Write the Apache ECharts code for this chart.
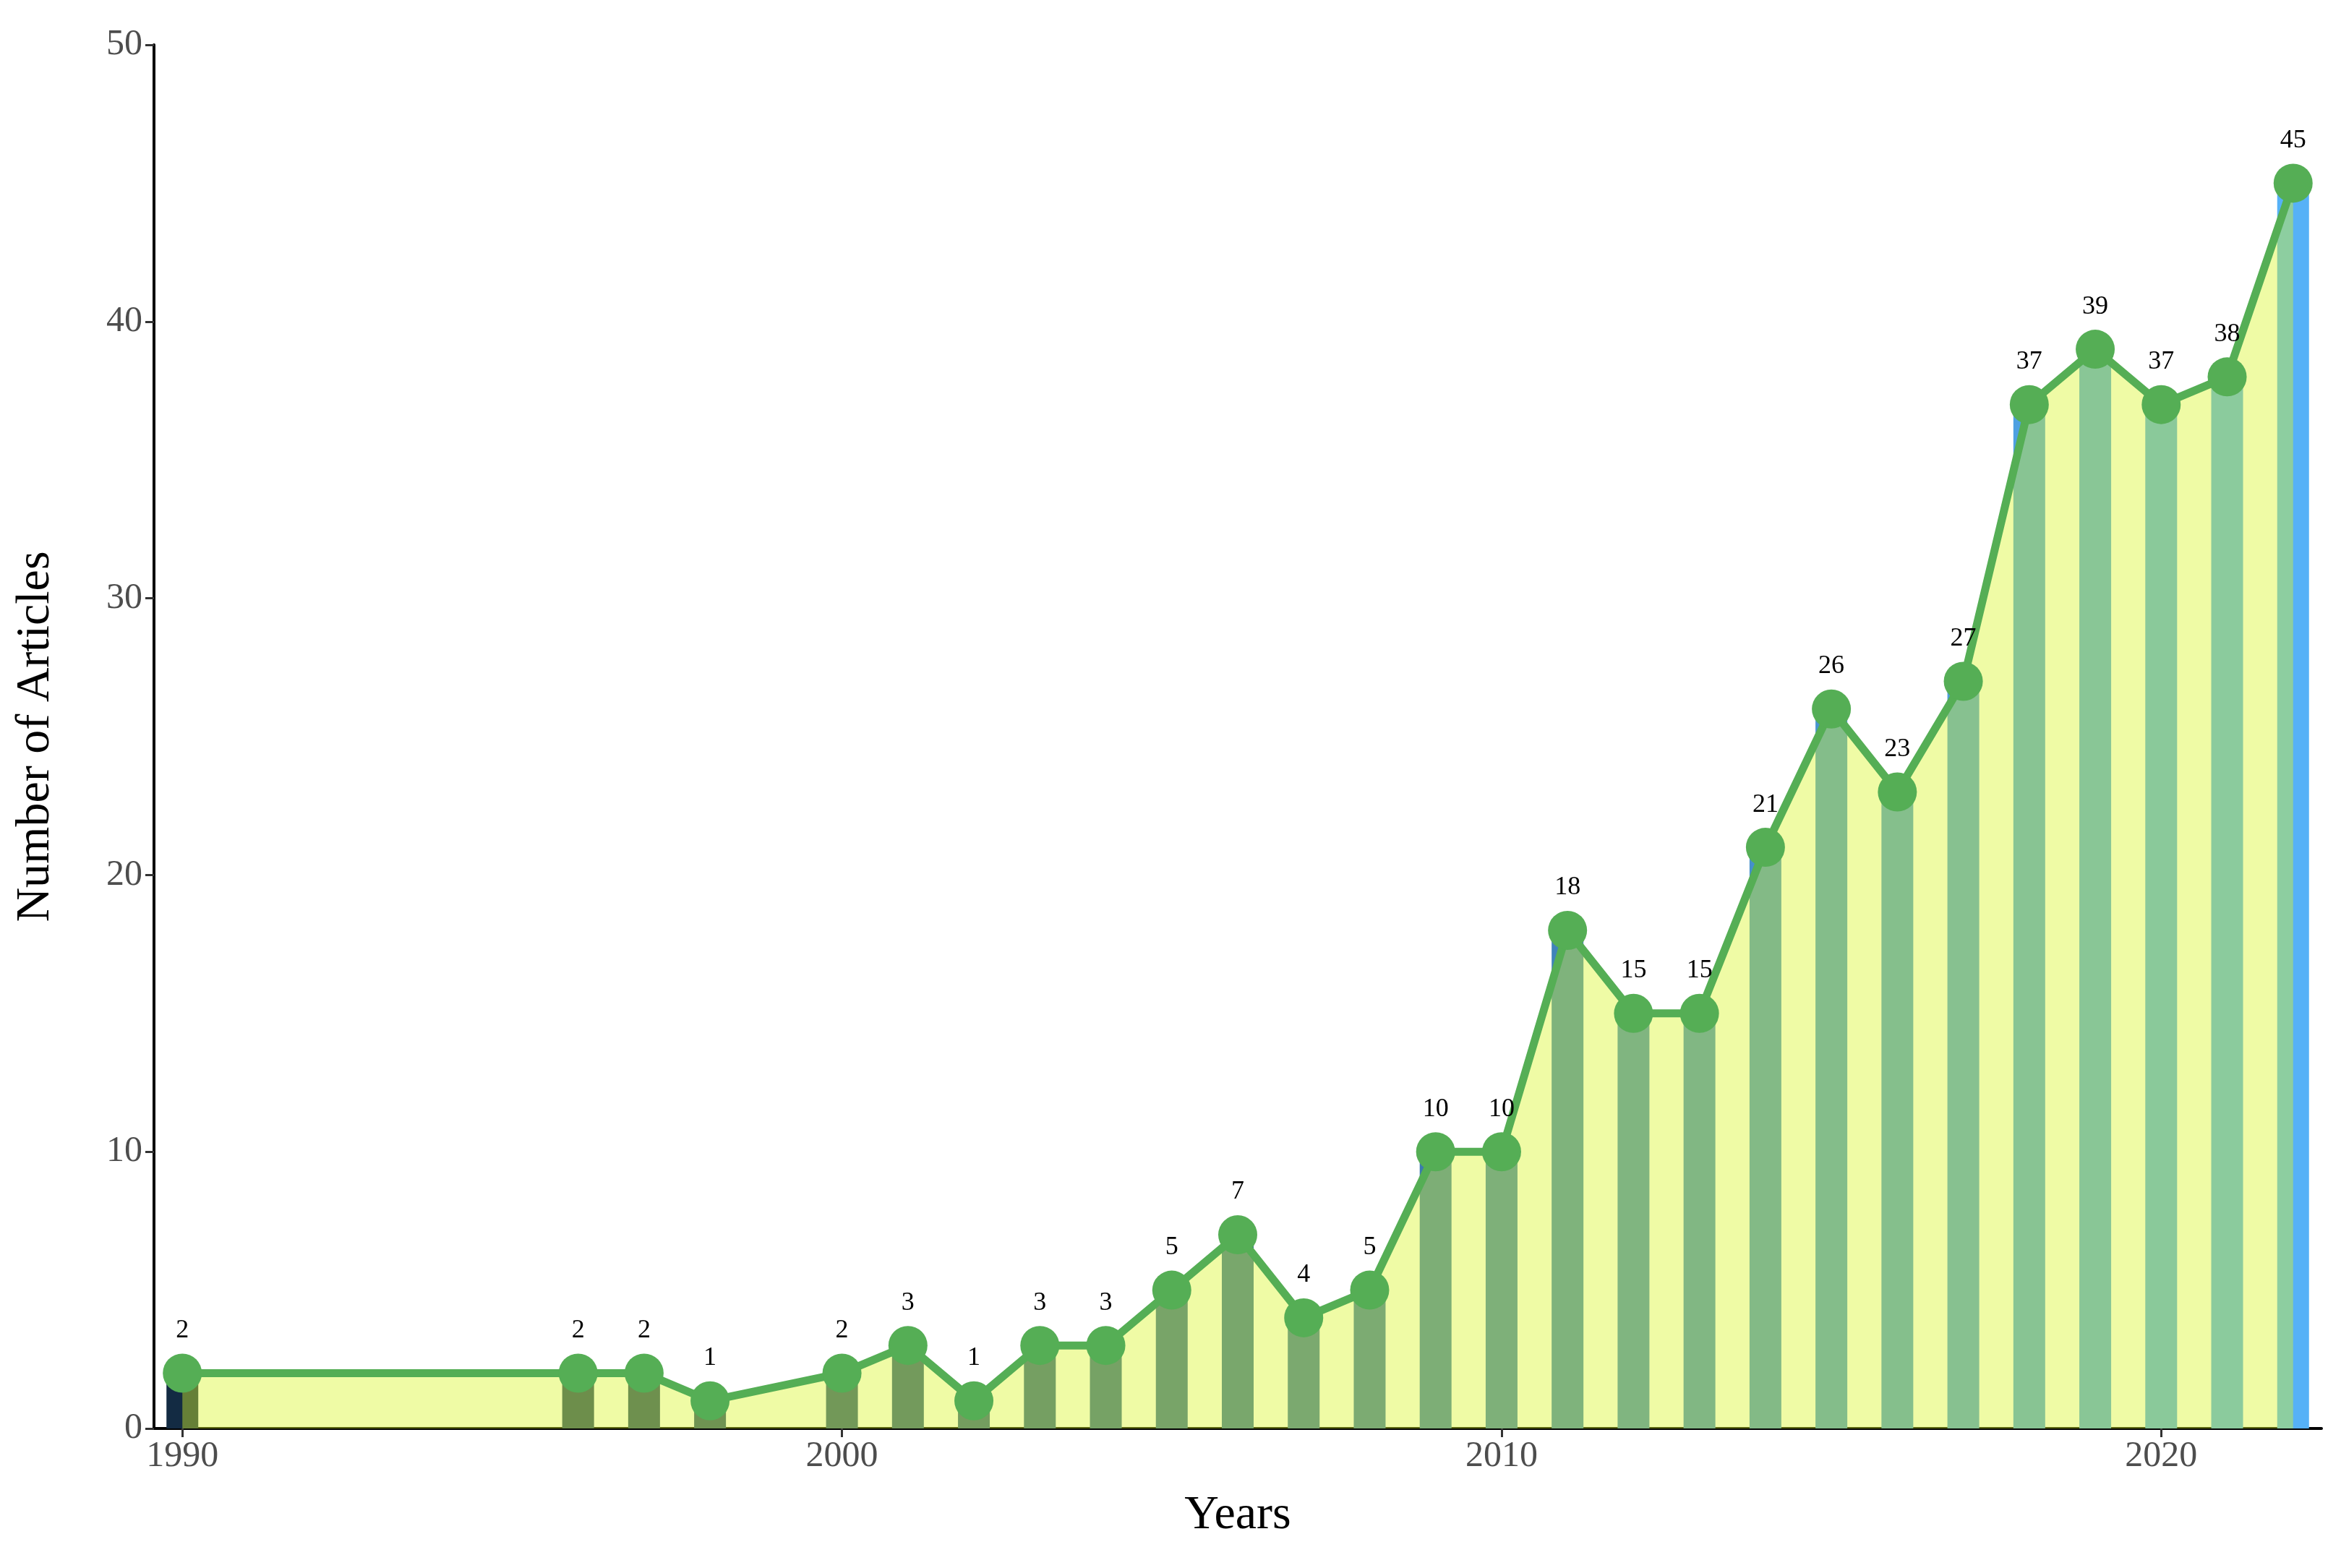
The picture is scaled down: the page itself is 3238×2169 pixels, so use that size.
<!DOCTYPE html>
<html><head><meta charset="utf-8">
<script src="https://cdn.jsdelivr.net/npm/echarts@6/dist/echarts.min.js"></script>
<style>html,body{margin:0;padding:0;background:#fff}#c{width:3238px;height:2169px}</style>
</head><body><div id="c"></div>
<script>
const years = [1990,1996,1997,1998,2000,2001,2002,2003,2004,2005,2006,2007,2008,2009,2010,2011,2012,2013,2014,2015,2016,2017,2018,2019,2020,2021,2022];
const counts = [2,2,2,1,2,3,1,3,3,5,7,4,5,10,10,18,15,15,21,26,23,27,37,39,37,38,45];
const xTicks = [1990,2000,2010,2020];
const yTicks = [0,10,20,30,40,50];

const pts = years.map((y,i)=>[y,counts[i]]);
const font = 'Liberation Serif';
const chart = echarts.init(document.getElementById('c'));
chart.setOption({
  backgroundColor:'#fff',
  animation:false,
  grid:{left:213,right:27,top:62,bottom:193},
  visualMap:{show:false,seriesIndex:0,dimension:0,min:1990,max:2022,inRange:{color:['#132B43','#56B1F7']}},
  xAxis:{type:'value',min:1989.57,max:2022.43,
    name:'Years',nameLocation:'middle',nameGap:88,nameTextStyle:{fontFamily:font,fontSize:66,color:'#000'},
    axisLine:{lineStyle:{color:'#000',width:4}},
    axisTick:{customValues:xTicks,length:12,lineStyle:{color:'#333',width:3}},
    axisLabel:{customValues:xTicks,formatter:v=>String(v),fontFamily:font,fontSize:50,color:'#4D4D4D',margin:14},
    splitLine:{show:false}},
  yAxis:{type:'value',min:0,max:50,interval:10,
    name:'Number of Articles',nameLocation:'middle',nameGap:130,nameTextStyle:{fontFamily:font,fontSize:66,color:'#000'},
    axisLine:{show:true,lineStyle:{color:'#000',width:4}},
    axisTick:{show:true,length:12,lineStyle:{color:'#333',width:3}},
    axisLabel:{fontFamily:font,fontSize:50,color:'#4D4D4D',margin:16},
    splitLine:{show:false}},
  series:[
    {type:'bar',data:pts,barWidth:44,z:1},
    {type:'line',data:pts,z:3,symbol:'circle',symbolSize:54,
      lineStyle:{color:'#55AE55',width:11},itemStyle:{color:'#55AE55'},
      areaStyle:{color:'rgba(218,246,40,0.6)',origin:'start'},
      label:{show:true,position:'top',distance:14,fontFamily:font,fontSize:36,color:'#000'}}
  ]
});
</script></body></html>
